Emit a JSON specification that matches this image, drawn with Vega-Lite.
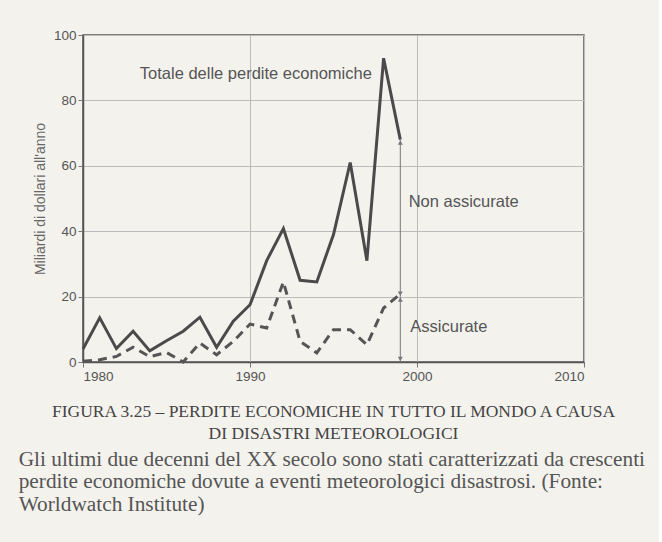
{
  "$schema": "https://vega.github.io/schema/vega-lite/v6.json",
  "background": "#f4f2ed",
  "padding": {"left": 18, "top": 27, "right": 14, "bottom": 30},
  "datasets": {
    "losses": [
      {"year": 1980, "total": 4, "insured": 0.2},
      {"year": 1981, "total": 13.5, "insured": 0.7},
      {"year": 1982, "total": 4.1, "insured": 1.7},
      {"year": 1983, "total": 9.4, "insured": 4.5},
      {"year": 1984, "total": 3.4, "insured": 1.6},
      {"year": 1985, "total": 6.5, "insured": 2.9},
      {"year": 1986, "total": 9.4, "insured": 0},
      {"year": 1987, "total": 13.7, "insured": 5.8},
      {"year": 1988, "total": 4.5, "insured": 2.2},
      {"year": 1989, "total": 12.5, "insured": 6.3},
      {"year": 1990, "total": 17.5, "insured": 11.6},
      {"year": 1991, "total": 31, "insured": 10.4},
      {"year": 1992, "total": 40.8, "insured": 24.5},
      {"year": 1993, "total": 25, "insured": 6.3},
      {"year": 1994, "total": 24.5, "insured": 2.8},
      {"year": 1995, "total": 39, "insured": 9.9},
      {"year": 1996, "total": 61, "insured": 9.9},
      {"year": 1997, "total": 31, "insured": 5.3},
      {"year": 1998, "total": 92.9, "insured": 16.5},
      {"year": 1999, "total": 68, "insured": 20.8}
    ],
    "arrows": [
      {"year": 1999, "from": 0, "to": 20},
      {"year": 1999, "from": 20, "to": 68}
    ],
    "labels": [
      {"year": 1983.4, "value": 88, "text": "Totale delle perdite economiche"},
      {"year": 1999.5, "value": 49, "text": "Non assicurate"},
      {"year": 1999.6, "value": 10.8, "text": "Assicurate"}
    ]
  },
  "title": {
    "text": [
      "Gli ultimi due decenni del XX secolo sono stati caratterizzati da crescenti",
      "perdite economiche dovute a eventi meteorologici disastrosi. (Fonte:",
      "Worldwatch Institute)"
    ],
    "orient": "bottom",
    "anchor": "start",
    "frame": "bounds",
    "dx": -14,
    "font": "Liberation Serif",
    "fontSize": 21.3,
    "fontWeight": "normal",
    "color": "#555555",
    "lineHeight": 22.5,
    "offset": 6
  },
  "vconcat": [
    {
      "width": 501,
      "height": 327,
      "title": {
        "text": [
          "FIGURA 3.25 – PERDITE ECONOMICHE IN TUTTO IL MONDO A CAUSA",
          "DI DISASTRI METEOROLOGICI"
        ],
        "orient": "bottom",
        "anchor": "middle",
        "font": "Liberation Serif",
        "fontSize": 17.5,
        "fontWeight": "normal",
        "color": "#444444",
        "lineHeight": 22,
        "offset": 20
      },
      "layer": [
        {
          "data": {"name": "losses"},
          "mark": {"type": "line", "color": "#4a4a4a", "strokeWidth": 3},
          "encoding": {
            "x": {
              "field": "year",
              "type": "quantitative",
              "scale": {"domain": [1980, 2010], "nice": false, "zero": false},
              "axis": {"values": [1980, 1990, 2000, 2010], "format": "d", "title": null}
            },
            "y": {
              "field": "total",
              "type": "quantitative",
              "scale": {"domain": [0, 100], "nice": false},
              "axis": {"values": [0, 20, 40, 60, 80, 100], "title": "Miliardi di dollari all'anno"}
            }
          }
        },
        {
          "data": {"name": "losses"},
          "mark": {"type": "line", "color": "#555555", "strokeWidth": 3, "strokeDash": [9, 6]},
          "encoding": {
            "x": {"field": "year", "type": "quantitative"},
            "y": {"field": "insured", "type": "quantitative"}
          }
        },
        {
          "data": {"name": "arrows"},
          "mark": {"type": "rule", "color": "#777777", "strokeWidth": 1},
          "encoding": {
            "x": {"field": "year", "type": "quantitative"},
            "y": {"field": "from", "type": "quantitative"},
            "y2": {"field": "to"}
          }
        },
        {
          "data": {"name": "arrows"},
          "mark": {"type": "point", "shape": "triangle-up", "filled": true, "color": "#777777", "size": 25, "yOffset": 3, "opacity": 1},
          "encoding": {
            "x": {"field": "year", "type": "quantitative"},
            "y": {"field": "to", "type": "quantitative"}
          }
        },
        {
          "data": {"name": "arrows"},
          "mark": {"type": "point", "shape": "triangle-down", "filled": true, "color": "#777777", "size": 25, "yOffset": -3, "opacity": 1},
          "encoding": {
            "x": {"field": "year", "type": "quantitative"},
            "y": {"field": "from", "type": "quantitative"}
          }
        },
        {
          "data": {"name": "labels"},
          "mark": {"type": "text", "align": "left", "baseline": "middle", "font": "Liberation Sans", "fontSize": 16.5, "color": "#555555"},
          "encoding": {
            "x": {"field": "year", "type": "quantitative"},
            "y": {"field": "value", "type": "quantitative"},
            "text": {"field": "text"}
          }
        }
      ]
    }
  ],
  "config": {
    "view": {"stroke": "#555555", "strokeWidth": 1.5},
    "axis": {
      "labelFont": "Liberation Sans",
      "labelFontSize": 13.5,
      "labelColor": "#555555",
      "titleFont": "Liberation Sans",
      "titleFontSize": 14,
      "titleFontWeight": "normal",
      "titleColor": "#666666",
      "domainColor": "#555555",
      "domainWidth": 1.5,
      "tickColor": "#777777",
      "tickSize": 5,
      "labelPadding": 2,
      "gridColor": "#bbbbbb",
      "gridWidth": 1,
      "grid": true
    },
    "axisY": {"titlePadding": 6}
  }
}
